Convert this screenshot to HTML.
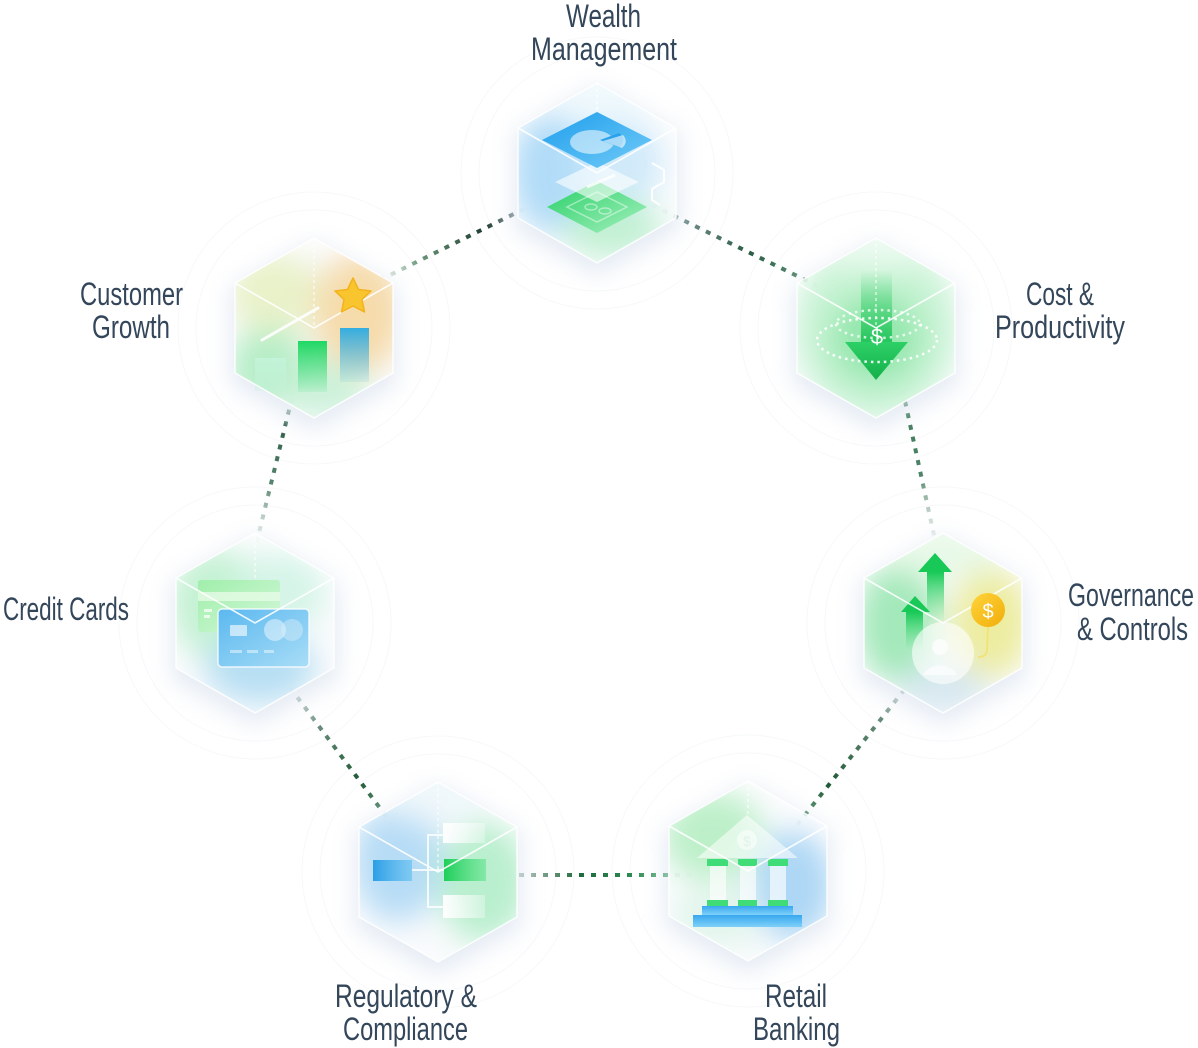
<!DOCTYPE html>
<html><head><meta charset="utf-8">
<style>
html,body{margin:0;padding:0;background:#fff;}
svg{display:block;}
.lbl{font-family:"Liberation Sans Narrow","Liberation Sans",sans-serif;font-size:32px;fill:#34465a;}
</style></head>
<body>
<svg width="1198" height="1048" viewBox="0 0 1198 1048" xmlns="http://www.w3.org/2000/svg">
<defs>
  <path id="hex" d="M0,-90 L79,-45 L79,45 L0,90 L-79,45 L-79,-45 Z"/>
  <clipPath id="hc"><path d="M0,-90 L79,-45 L79,45 L0,90 L-79,45 L-79,-45 Z"/></clipPath>
  <filter id="blur" x="-50%" y="-50%" width="200%" height="200%"><feGaussianBlur stdDeviation="15"/></filter>
  <filter id="halo" x="-50%" y="-50%" width="200%" height="200%"><feGaussianBlur stdDeviation="11"/></filter>
  <linearGradient id="gBlue" x1="0" y1="0" x2="1" y2="1"><stop offset="0" stop-color="#1e9eec"/><stop offset="1" stop-color="#72cbf7"/></linearGradient>
  <linearGradient id="gGreen" x1="0" y1="0" x2="1" y2="1"><stop offset="0" stop-color="#1fcf5e"/><stop offset="1" stop-color="#a3f0bd"/></linearGradient>
  <linearGradient id="gBarG" x1="0" y1="0" x2="0" y2="1"><stop offset="0" stop-color="#1ed865"/><stop offset="1" stop-color="#1ed865" stop-opacity="0.1"/></linearGradient>
  <linearGradient id="gBarB" x1="0" y1="0" x2="0" y2="1"><stop offset="0" stop-color="#35ade0"/><stop offset="1" stop-color="#35ade0" stop-opacity="0.1"/></linearGradient>
  <linearGradient id="gBarL" x1="0" y1="0" x2="0" y2="1"><stop offset="0" stop-color="#c3f3d8"/><stop offset="1" stop-color="#c3f3d8" stop-opacity="0.3"/></linearGradient>
  <linearGradient id="gShaft" x1="0" y1="0" x2="0" y2="1"><stop offset="0" stop-color="#2fcf65" stop-opacity="0"/><stop offset="1" stop-color="#22c45a"/></linearGradient>
  <linearGradient id="gHead" x1="0" y1="0" x2="0" y2="1"><stop offset="0" stop-color="#2dd066"/><stop offset="1" stop-color="#14b04a"/></linearGradient>
  <linearGradient id="gUp" x1="0" y1="0" x2="0" y2="1"><stop offset="0" stop-color="#18c957"/><stop offset="1" stop-color="#4fdc7f" stop-opacity="0"/></linearGradient>
  <linearGradient id="gCardG" x1="0" y1="0" x2="1" y2="1"><stop offset="0" stop-color="#9eeea9"/><stop offset="1" stop-color="#d4f8d9"/></linearGradient>
  <linearGradient id="gCardB" x1="0" y1="0" x2="1" y2="1"><stop offset="0" stop-color="#5ab8ef"/><stop offset="1" stop-color="#a9ddf7"/></linearGradient>
  <linearGradient id="gStep" x1="0" y1="0" x2="0" y2="1"><stop offset="0" stop-color="#38a8ef"/><stop offset="1" stop-color="#7fd0f8"/></linearGradient>
  <linearGradient id="gWhiteR" x1="0" y1="0" x2="1" y2="0"><stop offset="0" stop-color="#fff" stop-opacity="0.95"/><stop offset="1" stop-color="#fff" stop-opacity="0.3"/></linearGradient>
  <linearGradient id="gRegB" x1="0" y1="0" x2="1" y2="0"><stop offset="0" stop-color="#2b9ee6"/><stop offset="1" stop-color="#5cbdf0" stop-opacity="0.6"/></linearGradient>
  <linearGradient id="gRegG" x1="0" y1="0" x2="1" y2="0"><stop offset="0" stop-color="#1ccf58"/><stop offset="1" stop-color="#6ee596" stop-opacity="0.7"/></linearGradient>
  <linearGradient id="gCoin" x1="0" y1="0" x2="1" y2="1"><stop offset="0" stop-color="#ffd43a"/><stop offset="1" stop-color="#f1ad0a"/></linearGradient>

  <linearGradient id="c1" gradientUnits="userSpaceOnUse" x1="380" y1="280" x2="530" y2="206"><stop offset="0" stop-color="#c9d3cc" stop-opacity="0.3"/><stop offset="0.25" stop-color="#6f9a80"/><stop offset="0.7" stop-color="#1d3d2e"/><stop offset="0.9" stop-color="#8c9aa2"/><stop offset="1" stop-color="#c8d3da" stop-opacity="0.3"/></linearGradient>
  <linearGradient id="c2" gradientUnits="userSpaceOnUse" x1="652" y1="205" x2="830" y2="292"><stop offset="0" stop-color="#aeb8bf" stop-opacity="0.4"/><stop offset="0.2" stop-color="#6d8a86"/><stop offset="0.55" stop-color="#2a5e44"/><stop offset="0.85" stop-color="#5b8f73"/><stop offset="1" stop-color="#cfe0d6" stop-opacity="0.3"/></linearGradient>
  <linearGradient id="c3" gradientUnits="userSpaceOnUse" x1="900" y1="378" x2="935" y2="540"><stop offset="0" stop-color="#7aa48c" stop-opacity="0.4"/><stop offset="0.25" stop-color="#3f7a5a"/><stop offset="0.6" stop-color="#4f846a"/><stop offset="1" stop-color="#c8d6d0" stop-opacity="0.3"/></linearGradient>
  <linearGradient id="c4" gradientUnits="userSpaceOnUse" x1="912" y1="680" x2="793" y2="830"><stop offset="0" stop-color="#b0c0bc" stop-opacity="0.3"/><stop offset="0.25" stop-color="#6a8d7d"/><stop offset="0.7" stop-color="#1f5a35"/><stop offset="0.9" stop-color="#5e9776"/><stop offset="1" stop-color="#c9d8d0" stop-opacity="0.3"/></linearGradient>
  <linearGradient id="c5" gradientUnits="userSpaceOnUse" x1="495" y1="875" x2="705" y2="875"><stop offset="0" stop-color="#bcd3c5" stop-opacity="0.3"/><stop offset="0.2" stop-color="#8aa595"/><stop offset="0.4" stop-color="#1f6a3c"/><stop offset="0.65" stop-color="#2c8a52"/><stop offset="0.85" stop-color="#7fbf95"/><stop offset="1" stop-color="#cfe6d8" stop-opacity="0.3"/></linearGradient>
  <linearGradient id="c6" gradientUnits="userSpaceOnUse" x1="283" y1="678" x2="400" y2="835"><stop offset="0" stop-color="#b9c6cc" stop-opacity="0.3"/><stop offset="0.3" stop-color="#6b8e7e"/><stop offset="0.65" stop-color="#1f5a35"/><stop offset="0.85" stop-color="#5e8e74"/><stop offset="1" stop-color="#c5d4cc" stop-opacity="0.3"/></linearGradient>
  <linearGradient id="c7" gradientUnits="userSpaceOnUse" x1="292" y1="398" x2="256" y2="545"><stop offset="0" stop-color="#9ab2a6" stop-opacity="0.4"/><stop offset="0.2" stop-color="#2f5e48"/><stop offset="0.6" stop-color="#5a8771"/><stop offset="1" stop-color="#cbd6d1" stop-opacity="0.3"/></linearGradient>
</defs>

<rect width="1198" height="1048" fill="#fff"/>

<g fill="none" stroke="#f7f8fa" stroke-width="1">
  <circle cx="597" cy="173" r="118"/><circle cx="597" cy="173" r="136"/>
  <circle cx="314" cy="328" r="118"/><circle cx="314" cy="328" r="136"/>
  <circle cx="876" cy="328" r="118"/><circle cx="876" cy="328" r="136"/>
  <circle cx="255" cy="623" r="118"/><circle cx="255" cy="623" r="136"/>
  <circle cx="943" cy="623" r="118"/><circle cx="943" cy="623" r="136"/>
  <circle cx="438" cy="872" r="118"/><circle cx="438" cy="872" r="136"/>
  <circle cx="748" cy="871" r="118"/><circle cx="748" cy="871" r="136"/>
</g>

<g fill="none" stroke-width="4" stroke-dasharray="5 7">
  <line x1="380" y1="280" x2="530" y2="206" stroke="url(#c1)"/>
  <line x1="652" y1="205" x2="830" y2="292" stroke="url(#c2)"/>
  <line x1="900" y1="378" x2="935" y2="540" stroke="url(#c3)"/>
  <line x1="912" y1="680" x2="793" y2="830" stroke="url(#c4)"/>
  <line x1="495" y1="875" x2="705" y2="875" stroke="url(#c5)"/>
  <line x1="283" y1="678" x2="400" y2="835" stroke="url(#c6)"/>
  <line x1="292" y1="398" x2="256" y2="545" stroke="url(#c7)"/>
</g>

<!-- WEALTH -->
<g transform="translate(597,173)">
  <use href="#hex" fill="#c6d4e6" opacity="0.45" filter="url(#halo)" transform="translate(0,8) scale(1.06)"/>
  <use href="#hex" fill="#fff" opacity="0.75"/>
  <g clip-path="url(#hc)"><g filter="url(#blur)">
    <ellipse cx="-45" cy="0" rx="40" ry="60" fill="#a8d8f7" opacity="0.9"/>
    <ellipse cx="20" cy="-10" rx="45" ry="45" fill="#c6e6fa" opacity="0.8"/>
    <ellipse cx="15" cy="55" rx="50" ry="30" fill="#bcefcf" opacity="0.9"/>
    <ellipse cx="0" cy="-75" rx="60" ry="25" fill="#eef8fd" opacity="0.9"/>
  </g></g>
  <polygon points="-50,34 0,8 50,34 0,60" fill="url(#gGreen)" opacity="0.95"/>
  <g fill="none" stroke="#ffffff" stroke-opacity="0.45" stroke-width="1.5">
    <polygon points="-30,34 0,19 30,34 0,49"/>
    <ellipse cx="-6" cy="34" rx="6" ry="3"/><ellipse cx="8" cy="38" rx="6" ry="3"/>
  </g>
  <polygon points="-42,9 0,-11 42,9 0,29" fill="#ffffff" opacity="0.6"/>
  <line x1="-10" y1="14" x2="18" y2="2" stroke="#fff" stroke-width="3" opacity="0.8"/>
  <polygon points="-55,-33 0,-61 55,-33 0,-5" fill="url(#gBlue)"/>
  <path d="M-5,-31 m-22,0 a22,12 0 1,0 44,0 a22,12 0 1,0 -44,0" fill="#ffffff" opacity="0.55"/>
  <path d="M3,-33 L22,-40 A22,12 0 0 1 22,-26 Z" fill="#2aa2ec"/>
  <path d="M6,-32 L26,-38 A24,13 0 0 1 25,-25 Z" fill="#ffffff" opacity="0.6"/>
  <polyline points="55,-10 67,-3 67,9 55,16 55,27 63,32" fill="none" stroke="#fff" stroke-width="2" opacity="0.9"/>
  <use href="#hex" fill="none" stroke="#ffffff" stroke-width="1.5" opacity="0.85"/>
  <path d="M-79,-45 L0,0 L79,-45" fill="none" stroke="#fff" stroke-width="1.6" opacity="0.9"/>
  <line x1="0" y1="-90" x2="0" y2="-62" stroke="#fff" stroke-width="1.3" stroke-dasharray="3 3" opacity="0.9"/>
</g>

<!-- CUSTOMER GROWTH -->
<g transform="translate(314,328)">
  <use href="#hex" fill="#c6d4e6" opacity="0.45" filter="url(#halo)" transform="translate(0,8) scale(1.06)"/>
  <use href="#hex" fill="#fff" opacity="0.75"/>
  <g clip-path="url(#hc)"><g filter="url(#blur)">
    <ellipse cx="-40" cy="-35" rx="45" ry="40" fill="#e8f1c6" opacity="0.95"/>
    <ellipse cx="45" cy="-15" rx="45" ry="60" fill="#f5d9a6" opacity="0.95"/>
    <ellipse cx="-45" cy="40" rx="40" ry="40" fill="#aeecc0" opacity="0.9"/>
    <ellipse cx="10" cy="60" rx="45" ry="30" fill="#c8f1d6" opacity="0.9"/>
  </g></g>
  <rect x="-59" y="30" width="31" height="33" fill="url(#gBarL)"/>
  <rect x="-16" y="13" width="29" height="51" fill="url(#gBarG)"/>
  <rect x="26" y="0" width="29" height="54" fill="url(#gBarB)"/>
  <line x1="-52" y1="12" x2="4" y2="-20" stroke="#fff" stroke-width="3" stroke-linecap="round" opacity="0.9"/>
  <use href="#hex" fill="none" stroke="#ffffff" stroke-width="1.5" opacity="0.85"/>
  <path d="M-79,-45 L0,0 L79,-45" fill="none" stroke="#fff" stroke-width="1.6" opacity="0.9"/>
  <line x1="0" y1="-90" x2="0" y2="0" stroke="#fff" stroke-width="1.3" stroke-dasharray="3 3" opacity="0.8"/>
  <polygon points="39,-50 44.5,-38.5 57,-37 48,-28.5 50.5,-16 39,-22 27.5,-16 30,-28.5 21,-37 33.5,-38.5" fill="#f9c52e" stroke="#f3b21a" stroke-width="1.5" stroke-linejoin="round"/>
</g>

<!-- COST -->
<g transform="translate(876,328)">
  <use href="#hex" fill="#c6d4e6" opacity="0.45" filter="url(#halo)" transform="translate(0,8) scale(1.06)"/>
  <use href="#hex" fill="#fff" opacity="0.75"/>
  <g clip-path="url(#hc)"><g filter="url(#blur)">
    <ellipse cx="0" cy="0" rx="80" ry="90" fill="#c4f2d2" opacity="0.95"/>
    <ellipse cx="0" cy="10" rx="45" ry="45" fill="#8fe6a9" opacity="0.9"/>
    <ellipse cx="0" cy="-80" rx="70" ry="20" fill="#eefbf2" opacity="0.9"/>
  </g></g>
  <rect x="-15" y="-58" width="31" height="74" fill="url(#gShaft)"/>
  <polygon points="-31,14 32,14 0,52" fill="url(#gHead)"/>
  <ellipse cx="1" cy="12" rx="60" ry="22" fill="none" stroke="#fff" stroke-width="2.5" stroke-dasharray="2.5 4" opacity="0.9"/>
  <ellipse cx="2" cy="-4" rx="42" ry="14" fill="none" stroke="#fff" stroke-width="2.5" stroke-dasharray="2.5 4" opacity="0.75"/>
  <text x="1" y="16" text-anchor="middle" font-family="Liberation Sans, sans-serif" font-size="22" fill="#fff">$</text>
  <use href="#hex" fill="none" stroke="#ffffff" stroke-width="1.5" opacity="0.85"/>
  <path d="M-79,-45 L0,0 L79,-45" fill="none" stroke="#fff" stroke-width="1.6" opacity="0.9"/>
  <line x1="0" y1="-90" x2="0" y2="0" stroke="#fff" stroke-width="1.3" stroke-dasharray="3 3" opacity="0.8"/>
</g>

<!-- CREDIT CARDS -->
<g transform="translate(255,623)">
  <use href="#hex" fill="#c6d4e6" opacity="0.45" filter="url(#halo)" transform="translate(0,8) scale(1.06)"/>
  <use href="#hex" fill="#fff" opacity="0.75"/>
  <g clip-path="url(#hc)"><g filter="url(#blur)">
    <ellipse cx="-40" cy="-20" rx="45" ry="55" fill="#c2f1d2" opacity="0.95"/>
    <ellipse cx="25" cy="-30" rx="45" ry="40" fill="#d2f4e6" opacity="0.9"/>
    <ellipse cx="5" cy="45" rx="55" ry="35" fill="#b0dbf2" opacity="0.9"/>
  </g></g>
  <rect x="-57" y="-43" width="82" height="52" rx="3" fill="url(#gCardG)" opacity="0.95"/>
  <rect x="-57" y="-31" width="82" height="9" fill="#e6fbe6" opacity="0.8"/>
  <rect x="-51" y="-14" width="8" height="3" fill="#fff" opacity="0.7"/>
  <rect x="-51" y="-8" width="6" height="3" fill="#fff" opacity="0.7"/>
  <rect x="-37" y="-14" width="91" height="58" rx="4" fill="url(#gCardB)" stroke="#fff" stroke-width="1.5" stroke-opacity="0.8"/>
  <rect x="-25" y="2" width="17" height="11" rx="1" fill="#fff" opacity="0.6"/>
  <circle cx="20" cy="7" r="11" fill="#fff" opacity="0.45"/>
  <circle cx="37" cy="7" r="11" fill="#d9eef8" opacity="0.45"/>
  <g fill="#fff" opacity="0.45"><rect x="-25" y="27" width="12" height="3"/><rect x="-8" y="27" width="11" height="3"/><rect x="9" y="27" width="10" height="3"/></g>
  <use href="#hex" fill="none" stroke="#ffffff" stroke-width="1.5" opacity="0.85"/>
  <path d="M-79,-45 L0,0 L79,-45" fill="none" stroke="#fff" stroke-width="1.6" opacity="0.9"/>
  <line x1="0" y1="-90" x2="0" y2="-45" stroke="#fff" stroke-width="1.3" stroke-dasharray="3 3" opacity="0.8"/>
</g>

<!-- GOVERNANCE -->
<g transform="translate(943,623)">
  <use href="#hex" fill="#c6d4e6" opacity="0.45" filter="url(#halo)" transform="translate(0,8) scale(1.06)"/>
  <use href="#hex" fill="#fff" opacity="0.75"/>
  <g clip-path="url(#hc)"><g filter="url(#blur)">
    <ellipse cx="-45" cy="0" rx="40" ry="60" fill="#9fe8b6" opacity="0.95"/>
    <ellipse cx="48" cy="0" rx="40" ry="55" fill="#ecec9c" opacity="0.95"/>
    <ellipse cx="0" cy="-70" rx="60" ry="25" fill="#e6f8e6" opacity="0.9"/>
    <ellipse cx="0" cy="65" rx="45" ry="25" fill="#d3e6ee" opacity="0.9"/>
  </g></g>
  <rect x="-16" y="-51" width="17" height="50" fill="url(#gUp)"/>
  <polygon points="-8,-70 -25,-51 9,-51" fill="#18c957"/>
  <rect x="-37" y="-11" width="17" height="38" fill="url(#gUp)"/>
  <polygon points="-28,-27 -42,-11 -13,-11" fill="#18c957"/>
  <circle cx="0" cy="30" r="31" fill="#ffffff" opacity="0.6"/>
  <circle cx="-3" cy="24" r="8" fill="#fff" opacity="0.7"/>
  <path d="M-20,52 A18,14 0 0 1 14,52" fill="#fff" opacity="0.6"/>
  <path d="M45,4 L44,28 Q43,34 35,34" fill="none" stroke="#f3e27a" stroke-width="2"/>
  <use href="#hex" fill="none" stroke="#ffffff" stroke-width="1.5" opacity="0.85"/>
  <path d="M-79,-45 L0,0 L79,-45" fill="none" stroke="#fff" stroke-width="1.6" opacity="0.9"/>
  <circle cx="45" cy="-13" r="17" fill="url(#gCoin)"/>
  <text x="45" y="-5" text-anchor="middle" font-family="Liberation Sans, sans-serif" font-size="20" fill="#fff">$</text>
</g>

<!-- REGULATORY -->
<g transform="translate(438,872)">
  <use href="#hex" fill="#c6d4e6" opacity="0.45" filter="url(#halo)" transform="translate(0,8) scale(1.06)"/>
  <use href="#hex" fill="#fff" opacity="0.75"/>
  <g clip-path="url(#hc)"><g filter="url(#blur)">
    <ellipse cx="-40" cy="-10" rx="45" ry="60" fill="#b3daf5" opacity="0.95"/>
    <ellipse cx="45" cy="10" rx="45" ry="60" fill="#b5eecb" opacity="0.95"/>
    <ellipse cx="0" cy="-75" rx="60" ry="25" fill="#eef7fb" opacity="0.9"/>
  </g></g>
  <g fill="none" stroke="#fff" stroke-width="1.8" opacity="0.9">
    <path d="M5,-37 L-10,-37 L-10,35 L5,35"/>
    <line x1="-26" y1="-2" x2="6" y2="-2"/>
  </g>
  <rect x="-65" y="-12" width="39" height="21" fill="url(#gRegB)"/>
  <rect x="6" y="-13" width="42" height="22" fill="url(#gRegG)"/>
  <rect x="5" y="-49" width="42" height="20" fill="url(#gWhiteR)"/>
  <rect x="5" y="23" width="42" height="23" fill="url(#gWhiteR)"/>
  <use href="#hex" fill="none" stroke="#ffffff" stroke-width="1.5" opacity="0.85"/>
  <path d="M-79,-45 L0,0 L79,-45" fill="none" stroke="#fff" stroke-width="1.6" opacity="0.9"/>
  <line x1="0" y1="-90" x2="0" y2="0" stroke="#fff" stroke-width="1.3" stroke-dasharray="3 3" opacity="0.8"/>
</g>

<!-- RETAIL -->
<g transform="translate(748,871)">
  <use href="#hex" fill="#c6d4e6" opacity="0.45" filter="url(#halo)" transform="translate(0,8) scale(1.06)"/>
  <use href="#hex" fill="#fff" opacity="0.75"/>
  <g clip-path="url(#hc)"><g filter="url(#blur)">
    <ellipse cx="-35" cy="-35" rx="50" ry="45" fill="#b9efc6" opacity="0.95"/>
    <ellipse cx="45" cy="15" rx="40" ry="55" fill="#a9d5f4" opacity="0.95"/>
    <ellipse cx="-30" cy="45" rx="45" ry="30" fill="#dff5ea" opacity="0.9"/>
  </g></g>
  <polygon points="-51,-13 -1,-56 50,-13" fill="#ffffff" opacity="0.55"/>
  <circle cx="-1" cy="-31" r="10" fill="#fff" opacity="0.5"/>
  <text x="-1" y="-25" text-anchor="middle" font-family="Liberation Sans, sans-serif" font-size="14" fill="#dff3ea">$</text>
  <g fill="#ffffff" opacity="0.65">
    <rect x="-38" y="-5" width="16" height="34"/><rect x="-8" y="-5" width="16" height="34"/><rect x="22" y="-5" width="16" height="34"/>
  </g>
  <g fill="#3fdc78">
    <rect x="-41" y="-12" width="21" height="7"/><rect x="-10" y="-12" width="19" height="7"/><rect x="20" y="-12" width="20" height="7"/>
    <rect x="-41" y="29" width="21" height="6"/><rect x="-10" y="29" width="19" height="6"/><rect x="20" y="29" width="20" height="6"/>
  </g>
  <rect x="-46" y="35" width="91" height="9" fill="url(#gStep)"/>
  <rect x="-55" y="44" width="109" height="12" fill="url(#gStep)"/>
  <use href="#hex" fill="none" stroke="#ffffff" stroke-width="1.5" opacity="0.85"/>
  <path d="M-79,-45 L0,0 L79,-45" fill="none" stroke="#fff" stroke-width="1.6" opacity="0.9"/>
  <line x1="0" y1="-90" x2="0" y2="-56" stroke="#fff" stroke-width="1.3" stroke-dasharray="3 3" opacity="0.8"/>
</g>

<g class="lbl">
  <text class="lbl" x="566" y="27" textLength="75" lengthAdjust="spacingAndGlyphs">Wealth</text>
  <text class="lbl" x="531" y="60" textLength="146" lengthAdjust="spacingAndGlyphs">Management</text>
  <text class="lbl" x="80" y="305" textLength="103" lengthAdjust="spacingAndGlyphs">Customer</text>
  <text class="lbl" x="92" y="338" textLength="78" lengthAdjust="spacingAndGlyphs">Growth</text>
  <text class="lbl" x="1026" y="305" textLength="68" lengthAdjust="spacingAndGlyphs">Cost &amp;</text>
  <text class="lbl" x="995" y="338" textLength="130" lengthAdjust="spacingAndGlyphs">Productivity</text>
  <text class="lbl" x="3" y="620" textLength="126" lengthAdjust="spacingAndGlyphs">Credit Cards</text>
  <text class="lbl" x="1068" y="606" textLength="126" lengthAdjust="spacingAndGlyphs">Governance</text>
  <text class="lbl" x="1077" y="640" textLength="111" lengthAdjust="spacingAndGlyphs">&amp; Controls</text>
  <text class="lbl" x="335" y="1007" textLength="142" lengthAdjust="spacingAndGlyphs">Regulatory &amp;</text>
  <text class="lbl" x="343" y="1040" textLength="125" lengthAdjust="spacingAndGlyphs">Compliance</text>
  <text class="lbl" x="765" y="1007" textLength="62" lengthAdjust="spacingAndGlyphs">Retail</text>
  <text class="lbl" x="753" y="1040" textLength="87" lengthAdjust="spacingAndGlyphs">Banking</text>
</g>
</svg>
</body></html>
